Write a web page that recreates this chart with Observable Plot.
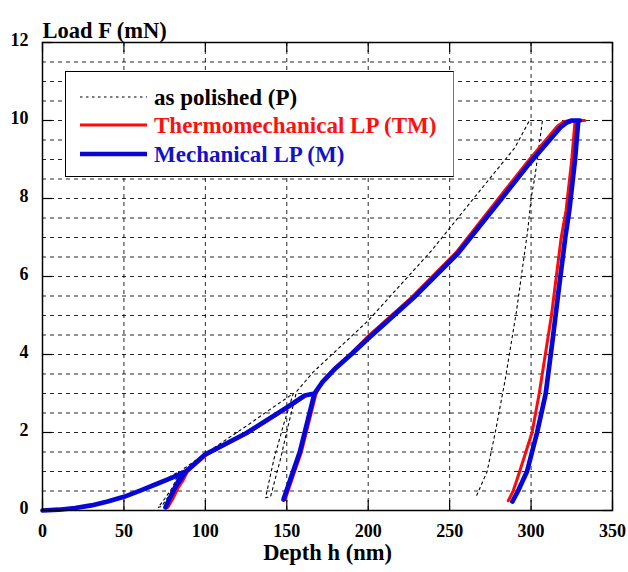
<!DOCTYPE html>
<html><head><meta charset="utf-8">
<script src="https://cdn.jsdelivr.net/npm/d3@7"></script>
<script src="https://cdn.jsdelivr.net/npm/@observablehq/plot@0.6"></script>
<style>
body{margin:0;background:#fff;}
#wrap{position:relative;width:628px;height:572px;}
#legend{position:absolute;left:65px;top:71px;width:389px;height:106px;background:#fff;border:1.5px solid #000;border-right-color:#777;box-sizing:border-box;}
#legend svg{position:absolute;left:0;top:0;overflow:visible;}
</style></head><body><div id="wrap"></div>
<script>
// ---- data (depth h in nm, load F in mN) ----
const xTicks = [0, 50, 100, 150, 200, 250, 300, 350];
const yTicks = [0, 2, 4, 6, 8, 10, 12];
const xGrid = [50, 100, 150, 200, 250, 300];
const yGrid = [0.5, 1, 1.5, 2, 2.5, 3, 3.5, 4, 4.5, 5, 5.5, 6, 6.5, 7, 7.5, 8, 8.5, 9, 9.5, 10, 10.5, 11, 11.5];

// as polished (P)
const pH = [0, 20, 40, 60, 70, 84, 80, 75, 71, 73, 78, 82, 86, 100, 125, 140, 154, 148, 142, 137, 140, 146, 151, 156, 166, 200, 239, 273.6, 290, 299, 307, 302.5, 300, 298, 291, 284, 278, 273, 266];
const pF = [0, 0.065, 0.23, 0.51, 0.68, 1.0, 0.6, 0.3, 0.08, 0.1, 0.4, 0.7, 1.05, 1.46, 2.16, 2.6, 3.0, 2.2, 1.3, 0.33, 0.35, 1.3, 2.2, 3.05, 3.54, 4.87, 6.67, 8.46, 9.3, 10, 10, 8.6, 8, 7.2, 5.1, 3.33, 2, 1, 0.33];

// Thermomechanical LP (TM)
const tmH = [0, 10, 20, 30, 40, 50, 60, 70, 80, 89, 86, 83.5, 80, 77, 80, 83.5, 86, 89, 101, 126, 151, 162, 168, 162, 159, 154, 149, 154, 159, 162, 168, 172, 180, 190, 199, 227, 254, 280, 298, 316, 320, 324, 333, 327, 325, 321.5, 318.5, 312.5, 305, 300.6, 293, 289, 286];
const tmF = [0, 0.02, 0.065, 0.13, 0.23, 0.35, 0.51, 0.68, 0.85, 1.0, 0.75, 0.6, 0.3, 0.08, 0.3, 0.6, 0.75, 1.0, 1.44, 1.98, 2.64, 2.95, 3.0, 2.0, 1.5, 0.9, 0.28, 0.9, 1.5, 2.0, 3.0, 3.32, 3.67, 4.05, 4.43, 5.48, 6.62, 8.0, 8.95, 9.85, 9.97, 10, 10, 10, 9, 7.7, 7, 5, 3, 2, 1, 0.5, 0.25];

// Mechanical LP (M)
const mH = [0, 10, 20, 30, 40, 50, 60, 70, 80, 88, 84, 81.5, 78, 75.5, 78, 81.5, 84, 88, 100, 125, 150, 161, 167, 161, 158, 153, 148, 153, 158, 161, 167, 172, 180, 190, 200, 228, 255, 281, 299, 318, 322, 325, 330, 329, 327, 323.5, 321, 316.5, 313, 309, 303.7, 297.5, 292, 288.5];
const mF = [0, 0.02, 0.065, 0.13, 0.23, 0.35, 0.51, 0.68, 0.85, 1.0, 0.75, 0.6, 0.3, 0.08, 0.3, 0.6, 0.8, 1.0, 1.44, 1.98, 2.64, 2.95, 3.0, 2.0, 1.5, 0.9, 0.28, 0.9, 1.5, 2.0, 3.0, 3.3, 3.65, 4.02, 4.41, 5.46, 6.59, 7.95, 8.9, 9.82, 9.95, 10, 10, 10, 9, 7.7, 7, 5.5, 4.3, 3, 2, 1, 0.5, 0.23];

const seriesNames = ["as polished (P)", "Thermomechanical LP (TM)", "Mechanical LP (M)"];
const xLabel = "Depth h (nm)";
const yLabel = "Load F (mN)";

const toRows = (H, F) => H.map((h, i) => ({h, F: F[i]}));
const P = toRows(pH, pF), TM = toRows(tmH, tmF), M = toRows(mH, mF);

const RED = "#ff0a0a", BLUE = "#0606d8";
const FONT = "'Liberation Serif','Times New Roman',serif";

const chart = Plot.plot({
  width: 628, height: 572,
  marginLeft: 42, marginRight: 16, marginTop: 42, marginBottom: 62,
  x: {domain: [0, 350], label: null},
  y: {domain: [0, 12], label: null},
  style: {fontFamily: FONT, fontSize: "18px", fontWeight: "bold", color: "#000", background: "#fff"},
  marks: [
    Plot.gridX(xGrid, {stroke: "#000", strokeOpacity: 0.85, strokeWidth: 1, strokeDasharray: "4,4"}),
    Plot.gridY(yGrid, {stroke: "#000", strokeOpacity: 0.85, strokeWidth: 1, strokeDasharray: "4,4"}),
    Plot.tickX(xTicks, {x: d => d, insetTop: 458, stroke: "#000", strokeWidth: 1.2}),
    Plot.tickX(xTicks, {x: d => d, insetBottom: 458, stroke: "#000", strokeWidth: 1.2}),
    Plot.tickY(yTicks, {y: d => d, insetRight: 560, stroke: "#000", strokeWidth: 1.2}),
    Plot.tickY(yTicks, {y: d => d, insetLeft: 560, stroke: "#000", strokeWidth: 1.2}),
    Plot.line(P, {x: "h", y: "F", stroke: "#000", strokeWidth: 1.1, strokeDasharray: "2.5,3.5"}),
    Plot.line(TM, {x: "h", y: "F", stroke: RED, strokeWidth: 3}),
    Plot.line(M, {x: "h", y: "F", stroke: BLUE, strokeWidth: 4.7}),
    Plot.frame({stroke: "#000", strokeWidth: 1.5}),
    Plot.axisX(xTicks, {tickSize: 0, tickPadding: 14, label: null, fontSize: 18, fontWeight: "bold"}),
    Plot.axisY(yTicks, {tickSize: 0, tickPadding: 14, dy: -2, label: null, fontSize: 18, fontWeight: "bold"}),
    Plot.text([yLabel], {text: d => d, frameAnchor: "top-left", textAnchor: "start", dy: -20, fontSize: 22.5, fontWeight: "bold"}),
    Plot.text([xLabel], {text: d => d, frameAnchor: "bottom", dy: 49, fontSize: 22.5, fontWeight: "bold"})
  ]
});
const wrap = document.getElementById("wrap");
wrap.appendChild(chart);

// legend box inside the plot area
const leg = document.createElement("div");
leg.id = "legend";
const ns = "http://www.w3.org/2000/svg";
const svg = document.createElementNS(ns, "svg");
svg.setAttribute("width", 389); svg.setAttribute("height", 106);
const entries = [
  {name: seriesNames[0], stroke: "#000", sw: 1.1, dash: "2.5,3.5", color: "#000"},
  {name: seriesNames[1], stroke: RED, sw: 3, dash: null, color: "#ff1010"},
  {name: seriesNames[2], stroke: BLUE, sw: 4.7, dash: null, color: "#1212c8"}
];
const rowY = [25, 53, 82];
entries.forEach((e, i) => {
  const ln = document.createElementNS(ns, "line");
  ln.setAttribute("x1", 14); ln.setAttribute("x2", 81);
  ln.setAttribute("y1", rowY[i]); ln.setAttribute("y2", rowY[i]);
  ln.setAttribute("stroke", e.stroke); ln.setAttribute("stroke-width", e.sw);
  if (e.dash) ln.setAttribute("stroke-dasharray", e.dash);
  svg.appendChild(ln);
  const t = document.createElementNS(ns, "text");
  t.setAttribute("x", 88); t.setAttribute("y", rowY[i] + 7.5);
  t.setAttribute("fill", e.color);
  t.setAttribute("font-family", "Liberation Serif, Times New Roman, serif");
  t.setAttribute("font-weight", "bold"); t.setAttribute("font-size", 23);
  t.textContent = e.name;
  svg.appendChild(t);
});
leg.appendChild(svg);
wrap.appendChild(leg);
</script>
</body></html>
